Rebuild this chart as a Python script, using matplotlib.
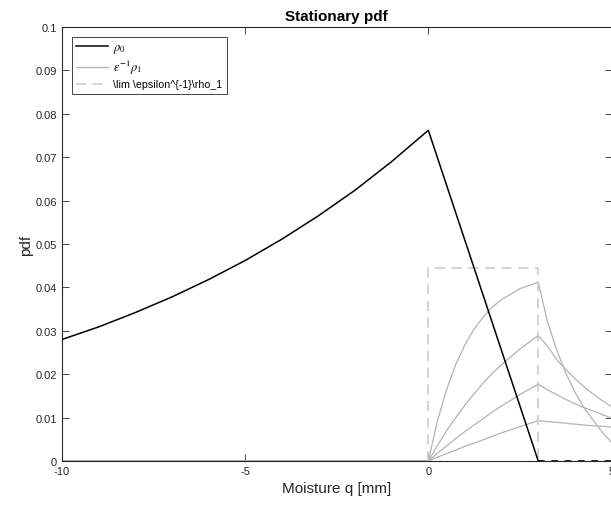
import matplotlib
matplotlib.use("Agg")
import matplotlib.pyplot as plt

plt.rcParams['font.family'] = ['Liberation Sans', 'DejaVu Sans']
plt.rcParams['mathtext.fontset'] = 'stix'
plt.rcParams['axes.unicode_minus'] = False

## stationary pdf rho_0
q_rho0 = [-10, -9, -8, -7, -6, -5, -4, -3, -2, -1, 0, 3]
rho0 = [0.0280, 0.0309, 0.0342, 0.0378, 0.0418, 0.0462, 0.0511, 0.0565,
        0.0624, 0.0690, 0.0762, 0.0]

## epsilon^-1 rho_1 for four epsilons
q_rho1 = [-10, 0, 0.25, 0.5, 0.75, 1, 1.25, 1.5, 1.75, 2, 2.5, 3,
          3.25, 3.5, 3.75, 4, 4.25, 4.5, 4.75, 5]
rho1 = [
    [0, 0, 0.0093, 0.0165, 0.0223, 0.0268, 0.0304, 0.0332, 0.0355, 0.0372, 0.0397, 0.0412,
     0.0322, 0.0257, 0.0203, 0.0159, 0.0123, 0.0094, 0.0066, 0.0043],
    [0, 0, 0.0036, 0.0070, 0.0100, 0.0129, 0.0155, 0.0180, 0.0202, 0.0222, 0.0258, 0.0289,
     0.0265, 0.0234, 0.0211, 0.0190, 0.0171, 0.0154, 0.0139, 0.0125],
    [0, 0, 0.0018, 0.0035, 0.0052, 0.0068, 0.0083, 0.0098, 0.0113, 0.0127, 0.0153, 0.0177,
     0.0164, 0.0153, 0.0142, 0.0132, 0.0123, 0.0115, 0.0107, 0.0099],
    [0, 0, 0.0009, 0.0017, 0.0025, 0.0034, 0.0041, 0.0049, 0.0057, 0.0065, 0.0079, 0.0093,
     0.0091, 0.0089, 0.0087, 0.0085, 0.0083, 0.0081, 0.0080, 0.0078],
]

## limit of epsilon^-1 rho_1
q_lim = [0, 0, 3, 3]
lim = [0, 0.0445, 0.0445, 0]

q_tail = [3, 5]
tail = [0, 0]

fig = plt.figure(figsize=(6.11, 5.10), dpi=100)
ax = fig.add_axes([62/611, 48/510, 549.5/611, 434/510])

grey = (0.70, 0.70, 0.70)
for i, r in enumerate(rho1):
    ax.plot(q_rho1, r, color=grey, lw=0.9,
            label=r'$\epsilon^{-1}\rho_1$' if i == 0 else None, zorder=2)
ax.plot(q_lim, lim, '--', color=(0.80, 0.80, 0.80), lw=1.2, dashes=(6, 4),
        label=r'\lim \epsilon^{-1}\rho_1', zorder=2)
ax.plot(q_rho0, rho0, color='k', lw=1.1, label=r'$\rho_0$', zorder=3)
ax.plot(q_tail, tail, '--', color='k', lw=1.2, dashes=(4, 4), zorder=3)

ax.set_xlim(-10, 5)
ax.set_ylim(0, 0.1)
ax.set_xticks([-10, -5, 0, 5])
ax.set_yticks([i / 100 for i in range(11)])
ax.set_yticklabels(['0'] + ['%g' % (i / 100) for i in range(1, 11)])
ax.tick_params(direction='in', top=True, right=True, length=5, width=0.6,
               labelsize=8, colors=(0.15, 0.15, 0.15))
for s in ax.spines.values():
    s.set_color((0.15, 0.15, 0.15))
    s.set_linewidth(0.8)

ax.set_xlabel('Moisture q [mm]', fontsize=11, color=(0.15, 0.15, 0.15), labelpad=4)
ax.set_ylabel('pdf', fontsize=11, color=(0.15, 0.15, 0.15), labelpad=2)
ax.set_title('Stationary pdf', fontsize=11, fontweight='bold', pad=5)

handles, labels = ax.get_legend_handles_labels()
order = [labels.index(r'$\rho_0$'), labels.index(r'$\epsilon^{-1}\rho_1$'),
         labels.index(r'\lim \epsilon^{-1}\rho_1')]
leg = ax.legend([handles[i] for i in order], [labels[i] for i in order],
                loc='upper left', fontsize=7.7, fancybox=False, framealpha=1,
                edgecolor=(0.15, 0.15, 0.15), handlelength=3.0, handletextpad=0.5,
                borderaxespad=0.9, labelspacing=0.3, borderpad=0.4)
leg.get_frame().set_linewidth(0.6)
# math entries render small, bump them up
for t in leg.get_texts()[:2]:
    t.set_fontsize(9)

fig.savefig('out.png', dpi=100)
